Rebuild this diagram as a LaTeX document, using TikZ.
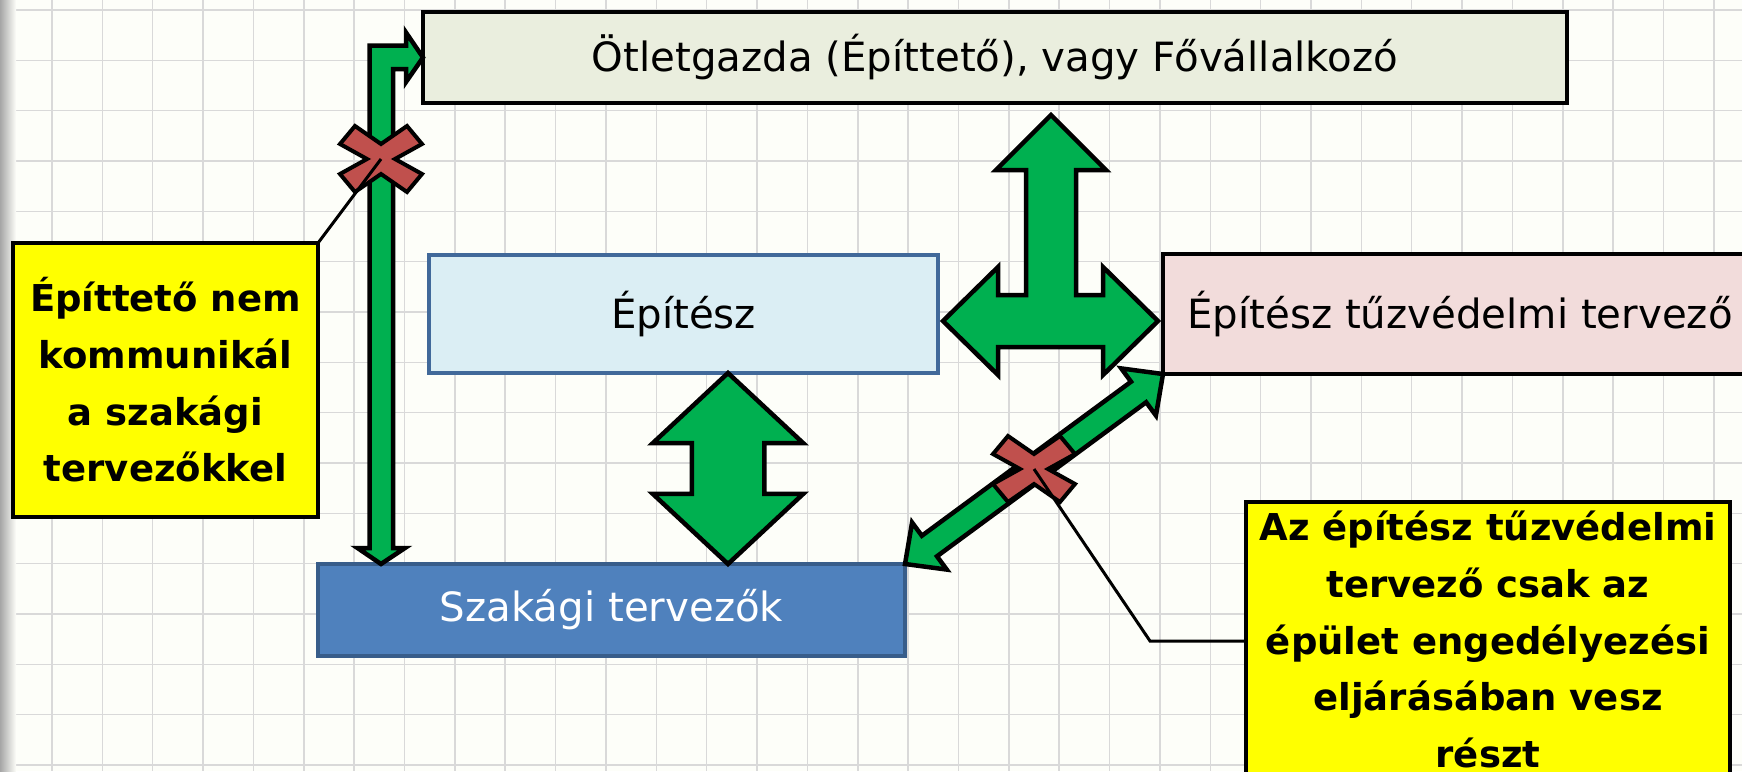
\documentclass[tikz,border=0pt]{standalone}
\usepackage{fontspec}
\setmainfont{DejaVu Sans}
\usetikzlibrary{shapes.arrows,calc}

\definecolor{hatter}{HTML}{FDFEF9}
\definecolor{racs}{HTML}{D9D9D9}
\definecolor{zold}{HTML}{00B050}
\definecolor{piros}{HTML}{C0504D}
\definecolor{sarga}{HTML}{FFFF00}
\definecolor{olivas}{HTML}{EAEEDE}
\definecolor{vkek}{HTML}{DBEEF4}
\definecolor{kekkeret}{HTML}{41699A}
\definecolor{rozsa}{HTML}{F2DCDB}
\definecolor{kek}{HTML}{4F81BD}
\definecolor{sotetkek}{HTML}{385D8A}

% double block arrow between two points
\newcommand{\ketnyil}[4]{%
  \path let \p1=($(#3)-(#2)$), \n1={atan2(\y1,\x1)}, \n2={veclen(\x1,\y1)} in
    node[ketnyilstilus, #1, rotate=\n1, minimum height=\n2] (#4) at ($(#2)!0.5!(#3)$) {};}

\begin{document}
\begin{tikzpicture}[x=1pt, y=-1pt,
    doboz/.style={rectangle, line width=4.5pt, outer sep=0pt, inner sep=0pt,
        font=\fontsize{40.3}{48}\selectfont},
    megjegyzes/.style={rectangle, draw=black, fill=sarga, line width=4pt, outer sep=0pt,
        inner sep=0pt, align=center, font=\fontsize{37}{56.7}\selectfont\bfseries},
    nyil/.style={draw=black, fill=zold, line width=4.5pt},
    ketnyilstilus/.style={nyil, double arrow, inner xsep=0pt, minimum width=0pt},
    tilos/.style={draw=black, fill=piros, line width=4pt},
    vonal/.style={black, line width=3pt},
    racsvonal/.style={racs, line width=1.5pt},
    tilosjel/.pic={\draw[tilos] (0,-15) -- (26,-33) -- (41,-15) -- (14,0) -- (41,15) -- (26,33)
        -- (0,15) -- (-26,33) -- (-41,15) -- (-14,0) -- (-41,-15) -- (-26,-33) -- cycle;}]
    % background
    \useasboundingbox (0,0) rectangle (1742,771);
    \fill[hatter] (0,0) rectangle (1742,771);
    \foreach \k in {0,...,33}
        \draw[racsvonal] ({52+50.36*\k},0) -- ({52+50.36*\k},771);
    \foreach \k in {0,...,15}
        \draw[racsvonal] (0,{10+50.33*\k}) -- (1742,{10+50.33*\k});
    \shade[left color=black!35, right color=hatter] (0,0) rectangle (16,771);
    % boxes
    \node[doboz, draw=black, fill=olivas, minimum width=1144pt, minimum height=91pt] (otlet)
        at (995,57.5) {Ötletgazda (Építtető), vagy Fővállalkozó};
    \node[doboz, draw=kekkeret, fill=vkek, line width=4pt, minimum width=509pt,
        minimum height=118pt] (epitesz) at (683.5,314) {Építész};
    \node[doboz, draw=black, fill=rozsa, minimum width=594pt, minimum height=120pt] (tuz)
        at (1460,314) {Építész tűzvédelmi tervező};
    \node[doboz, draw=sotetkek, fill=kek, text=white, line width=4pt, minimum width=587pt,
        minimum height=92pt] (szakagi) at (611.5,610) {Szakági tervezők};
    % arrows
    \coordinate (bx) at (381,0);
    \coordinate (le) at (szakagi.north -| bx);
    \coordinate (fent) at (otlet.west);
    \draw[nyil] (le) -- ++(24,-16) -- ++(-12,0) |- ($(fent)+(-17,11.5)$) -- ++(0,13) -- (fent)
        -- ++(-17,-25) -- ++(0,13) -| ($(le)+(-11.5,-16)$) -- ++(-12,0) -- cycle;
    \coordinate (hub) at (1051,321);
    \begin{scope}[shift={(hub)}]
        \draw[nyil] (0,-206) -- (55,-151) -- (25,-151) -- (25,-26) -- (52,-26) -- (52,-54)
            -- (107,0) -- (52,54) -- (52,26) -- (-53,26) -- (-53,54) -- (-108,0) -- (-53,-54)
            -- (-53,-26) -- (-25,-26) -- (-25,-151) -- (-55,-151) -- cycle;
    \end{scope}
    \coordinate (vx) at (728,0);
    \coordinate (f1) at (epitesz.south -| vx);
    \coordinate (a1) at (szakagi.north -| vx);
    \ketnyil{inner ysep=34pt, double arrow head extend=39pt, double arrow tip angle=94}{f1}{a1}{fuggoleges}
    \ketnyil{inner ysep=10.5pt, double arrow head extend=16.5pt, double arrow tip angle=88}{szakagi.north east}{tuz.south west}{atlos}
    % notes
    \node[megjegyzes, minimum width=305pt, minimum height=274pt] (megj1) at (165.5,380)
        {Építtető nem\\kommunikál\\a szakági\\tervezőkkel};
    \node[megjegyzes, anchor=north, minimum width=484pt, inner ysep=9pt] (megj2) at (1488,502)
        {Az építész tűzvédelmi\\tervező csak az\\épület engedélyezési\\eljárásában vesz\\részt\rule[-60pt]{0pt}{60pt}};
    % crosses
    \coordinate (x1) at (381,159);
    \coordinate (x2) at (atlos.center);
    \pic at (x1) {tilosjel};
    \pic at (x2) {tilosjel};
    % callout lines
    \coordinate (tores) at (1150,641);
    \draw[vonal] (megj1.north east) -- (x1);
    \draw[vonal] (x2) -- (tores) -- (tores -| megj2.west);
\end{tikzpicture}
\end{document}
